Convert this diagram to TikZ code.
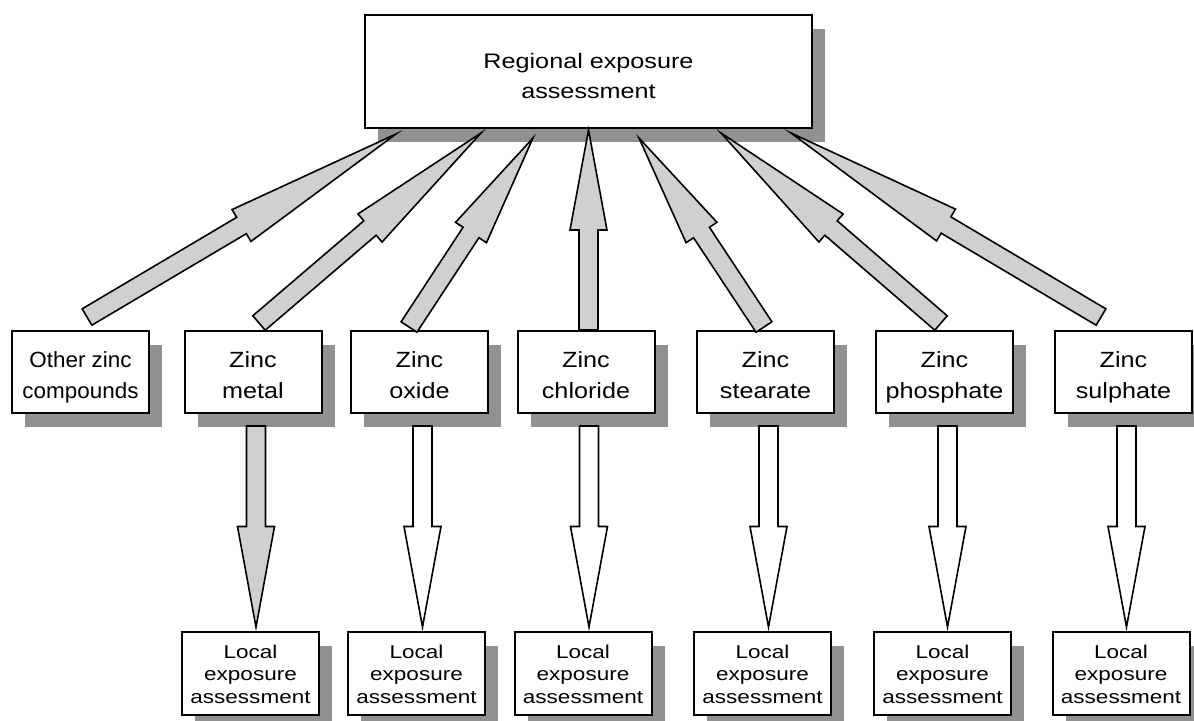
\documentclass[tikz,border=0pt]{standalone}
\usepackage{fontspec}
\setmainfont{Liberation Sans}
\newfontfamily\topfont{Liberation Sans}[FakeStretch=1.2]
\newfontfamily\midfont{Liberation Sans}[FakeStretch=1.145]
\newfontfamily\otherfont{Liberation Sans}[FakeStretch=1.02]
\newfontfamily\lowfont{Liberation Sans}[FakeStretch=1.21]
\usetikzlibrary{calc,shadows}
\definecolor{shadowgray}{RGB}{145,145,145}
\definecolor{arrowgray}{RGB}{208,208,208}

% invisible rules fixing the height of the first line and the depth of the last
\newcommand{\uprule}[1]{\rule{0pt}{#1}}
\newcommand{\downrule}[1]{\rule[-#1]{0pt}{#1}}

\tikzset{
  boxbase/.style={draw, line width=1pt, fill=white, align=center, inner sep=0pt,
    drop shadow={shadow xshift=6.5pt, shadow yshift=-7pt, fill=shadowgray, opacity=1}},
  topbox/.style={boxbase, minimum width=223.5pt, minimum height=56.5pt,
    font=\topfont\fontsize{10.5}{15}\selectfont},
  midbox/.style={boxbase, minimum width=68.5pt, minimum height=41pt,
    font=\midfont\fontsize{11}{15.5}\selectfont},
  otherbox/.style={midbox, font=\otherfont\fontsize{11}{15.5}\selectfont},
  lowbox/.style={boxbase, minimum width=68.5pt, minimum height=41.5pt,
    font=\lowfont\fontsize{9.3}{11.25}\selectfont},
  arrowline/.style={draw=black, line width=0.8pt, line join=miter},
}

\newcommand{\twolines}[2]{\uprule{13pt}#1\\#2\downrule{2.5pt}}
\newcommand{\localtext}{\uprule{8pt}Local\\exposure\\assessment\downrule{1pt}}

% block arrow from tail #3 to tip #4, head taking the front half
\newcommand{\fatarrow}[4]{%
  \coordinate (#1m) at ($(#3)!0.5!(#4)$);
  \draw[arrowline, fill=#2]
    ($(#3)!4.75pt!90:(#4)$) -- ($(#1m)!4.75pt!90:(#4)$) -- ($(#1m)!9.25pt!90:(#4)$)
    -- (#4)
    -- ($(#1m)!9.25pt!-90:(#4)$) -- ($(#1m)!4.75pt!-90:(#4)$) -- ($(#3)!4.75pt!-90:(#4)$)
    -- cycle;
}

\begin{document}
\begin{tikzpicture}[x=0.5pt,y=-0.5pt]
\useasboundingbox (0,0) rectangle (1194,720);

% regional level
\node[topbox] (top) at (588.5,71.5) {\uprule{13pt}Regional exposure\\assessment\downrule{1.5pt}};

% substances
\node[otherbox] (other)     at (80.5,372)   {\twolines{Other zinc}{compounds}};
\node[midbox]   (metal)     at (253,372)    {\twolines{Zinc}{metal}};
\node[midbox]   (oxide)     at (419.5,372)  {\twolines{Zinc}{oxide}};
\node[midbox]   (chloride)  at (586,372)    {\twolines{Zinc}{chloride}};
\node[midbox]   (stearate)  at (765.5,372)  {\twolines{Zinc}{stearate}};
\node[midbox]   (phosphate) at (944.5,372)  {\twolines{Zinc}{phosphate}};
\node[midbox]   (sulphate)  at (1123.5,372) {\twolines{Zinc}{sulphate}};

% local level
\node[lowbox] (lowA) at (250.5,673.5) {\localtext};
\node[lowbox] (lowB) at (416.5,673.5) {\localtext};
\node[lowbox] (lowC) at (583,673.5)   {\localtext};
\node[lowbox] (lowD) at (762.5,673.5) {\localtext};
\node[lowbox] (lowE) at (942.5,673.5) {\localtext};
\node[lowbox] (lowF) at (1121,673.5)  {\localtext};

% arrow ends towards the regional box
\path (other.north)     ++(6.5,-13)  coordinate (u1t);
\path (top.south)       ++(-192.5,5) coordinate (u1h);
\path (metal.north)     ++(6,-7)     coordinate (u2t);
\path (top.south)       ++(-107.5,4) coordinate (u2h);
\path (oxide.north)     ++(-10.5,-3) coordinate (u3t);
\path (top.south)       ++(-55.5,9)  coordinate (u3h);
\path (chloride.north)  ++(2.5,0)    coordinate (u4t);
\path (u4t |- top.south) ++(0,1)     coordinate (u4h);
\path (stearate.north)  ++(-1.5,-3)  coordinate (u5t);
\path (top.south)       ++(50.5,9)   coordinate (u5h);
\path (phosphate.north) ++(-3.5,-7)  coordinate (u6t);
\path (top.south)       ++(132.5,4)  coordinate (u6h);
\path (sulphate.north)  ++(-22.5,-13) coordinate (u7t);
\path (top.south)       ++(202.5,4)  coordinate (u7h);

\fatarrow{ua}{arrowgray}{u1t}{u1h}
\fatarrow{ub}{arrowgray}{u2t}{u2h}
\fatarrow{uc}{arrowgray}{u3t}{u3h}
\fatarrow{ud}{arrowgray}{u4t}{u4h}
\fatarrow{ue}{arrowgray}{u5t}{u5h}
\fatarrow{uf}{arrowgray}{u6t}{u6h}
\fatarrow{ug}{arrowgray}{u7t}{u7h}

% arrow ends towards the local boxes
\path (metal.south)     ++(3,12) coordinate (d1t);
\path (d1t |- lowA.north) ++(0,-4) coordinate (d1h);
\path (oxide.south)     ++(3,12) coordinate (d2t);
\path (d2t |- lowB.north) ++(0,-4) coordinate (d2h);
\path (chloride.south)  ++(3,12) coordinate (d3t);
\path (d3t |- lowC.north) ++(0,-4) coordinate (d3h);
\path (stearate.south)  ++(3,12) coordinate (d4t);
\path (d4t |- lowD.north) ++(0,-4) coordinate (d4h);
\path (phosphate.south) ++(3,12) coordinate (d5t);
\path (d5t |- lowE.north) ++(0,-4) coordinate (d5h);
\path (sulphate.south)  ++(3,12) coordinate (d6t);
\path (d6t |- lowF.north) ++(0,-4) coordinate (d6h);

\fatarrow{da}{arrowgray}{d1t}{d1h}
\fatarrow{db}{white}{d2t}{d2h}
\fatarrow{dc}{white}{d3t}{d3h}
\fatarrow{dd}{white}{d4t}{d4h}
\fatarrow{de}{white}{d5t}{d5h}
\fatarrow{df}{white}{d6t}{d6h}
\end{tikzpicture}
\end{document}
